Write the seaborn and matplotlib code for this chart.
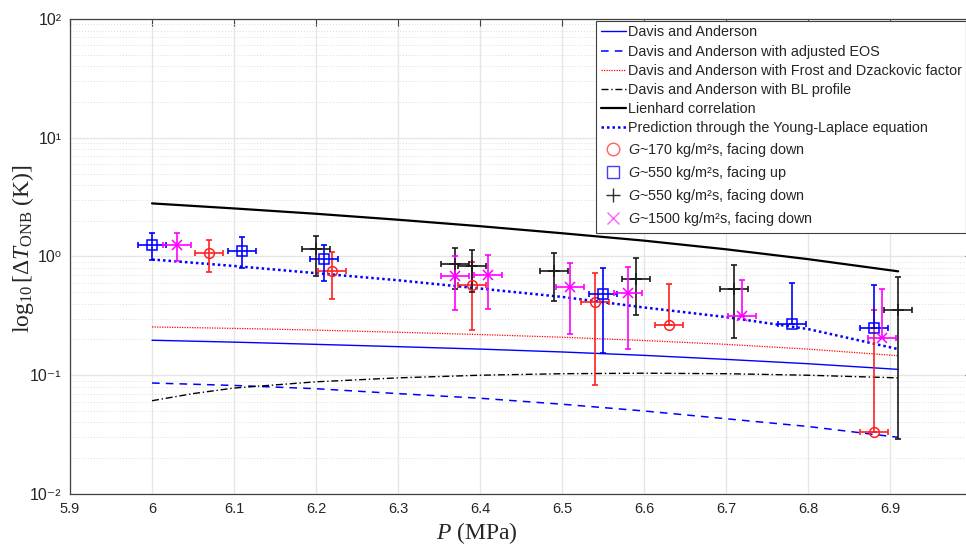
import numpy as np
import pandas as pd
import matplotlib
matplotlib.use("Agg")
import matplotlib.pyplot as plt
from matplotlib.lines import Line2D
import seaborn as sns

# ---------------- data ----------------
P_line = [6.0, 6.1, 6.2, 6.3, 6.4, 6.5, 6.6, 6.7, 6.8, 6.91]
davis = [0.197, 0.190, 0.182, 0.174, 0.166, 0.157, 0.147, 0.136, 0.125, 0.112]
davis_eos = [0.086, 0.082, 0.077, 0.070, 0.064, 0.057, 0.050, 0.043, 0.037, 0.030]
davis_frost = [0.255, 0.248, 0.240, 0.230, 0.220, 0.209, 0.196, 0.182, 0.166, 0.146]
lienhard = [2.80, 2.54, 2.29, 2.04, 1.80, 1.57, 1.36, 1.15, 0.95, 0.75]
young_laplace = [0.944, 0.832, 0.724, 0.631, 0.537, 0.457, 0.372, 0.309, 0.245, 0.166]

P_bl = [6.0, 6.05, 6.1, 6.2, 6.3, 6.4, 6.5, 6.6, 6.7, 6.8, 6.91]
davis_bl = [0.061, 0.070, 0.078, 0.088, 0.095, 0.100, 0.103, 0.104, 0.103, 0.100, 0.095]

# G~170 kg/m2s, facing down
g170_P = [6.07, 6.22, 6.39, 6.54, 6.63, 6.88]
g170_T = [1.07, 0.76, 0.57, 0.41, 0.266, 0.033]
g170_hi = [1.39, 1.09, 0.90, 0.73, 0.59, 0.356]
g170_lo = [0.74, 0.44, 0.24, 0.082, 0.266, 0.033]

# G~550 kg/m2s, facing up
g550u_P = [6.0, 6.11, 6.21, 6.55, 6.78, 6.88]
g550u_T = [1.26, 1.12, 0.944, 0.485, 0.271, 0.249]
g550u_hi = [1.58, 1.45, 1.26, 0.80, 0.60, 0.58]
g550u_lo = [0.943, 0.80, 0.616, 0.154, 0.271, 0.249]

# G~550 kg/m2s, facing down
g550d_P = [6.20, 6.37, 6.39, 6.49, 6.59, 6.71, 6.91]
g550d_T = [1.16, 0.86, 0.83, 0.75, 0.65, 0.534, 0.356]
g550d_hi = [1.50, 1.18, 1.145, 1.07, 0.975, 0.856, 0.678]
g550d_lo = [0.69, 0.535, 0.50, 0.42, 0.323, 0.207, 0.0288]

# G~1500 kg/m2s, facing down
g1500_P = [6.03, 6.37, 6.41, 6.51, 6.58, 6.72, 6.89]
g1500_T = [1.25, 0.683, 0.692, 0.551, 0.495, 0.315, 0.205]
g1500_hi = [1.58, 1.006, 1.02, 0.878, 0.813, 0.64, 0.535]
g1500_lo = [0.925, 0.356, 0.363, 0.223, 0.167, 0.315, 0.205]

P_err = 0.017

x_ticks = [5.9, 6.0, 6.1, 6.2, 6.3, 6.4, 6.5, 6.6, 6.7, 6.8, 6.9]
x_tick_labels = ["5.9", "6", "6.1", "6.2", "6.3", "6.4", "6.5", "6.6", "6.7", "6.8", "6.9"]
y_ticks = [1e-2, 1e-1, 1e0, 1e1, 1e2]
y_tick_labels = ["10\u207b\u00b2", "10\u207b\u00b9", "10\u2070", "10\u00b9", "10\u00b2"]

# ---------------- style ----------------
sns.set_theme(style="whitegrid")
plt.rcParams["font.family"] = ["Liberation Sans", "DejaVu Sans"]
plt.rcParams["mathtext.fontset"] = "custom"
plt.rcParams["mathtext.rm"] = "Liberation Serif"
plt.rcParams["mathtext.it"] = "Liberation Serif:italic"
plt.rcParams["mathtext.sf"] = "Liberation Sans:italic"

fig = plt.figure(figsize=(9.66, 5.44), dpi=100)
ax = fig.add_axes([0.0725, 0.092, 0.9337, 0.873])
ax.set_facecolor("white")

# ---------------- model lines ----------------
sns.lineplot(x=P_line, y=davis, ax=ax, color="#0000ff", lw=1.0, label="Davis and Anderson")
sns.lineplot(x=P_line, y=davis_eos, ax=ax, color="#0000ff", lw=1.1, linestyle=(0, (5, 4)),
             label="Davis and Anderson with adjusted EOS")
sns.lineplot(x=P_line, y=davis_frost, ax=ax, color="#ff0000", lw=0.9, linestyle=(0, (1, 1)),
             label="Davis and Anderson with Frost and Dzackovic factor")
sns.lineplot(x=P_bl, y=davis_bl, ax=ax, color="black", lw=1.0, linestyle=(0, (5, 2, 1, 2)),
             label="Davis and Anderson with BL profile")
sns.lineplot(x=P_line, y=lienhard, ax=ax, color="black", lw=1.6, label="Lienhard correlation")
sns.lineplot(x=P_line, y=young_laplace, ax=ax, color="#0000ff", lw=1.8, linestyle=(0, (1, 1.2)),
             label="Prediction through the Young-Laplace equation")


def eb(P, T, hi, lo, color, marker, ms, mew):
    T = np.array(T)
    yerr = np.vstack([T - np.array(lo), np.array(hi) - T])
    ax.errorbar(P, T, yerr=yerr, xerr=P_err, fmt="none", ecolor=color, elinewidth=1.2,
                capsize=2.5, capthick=1.2, zorder=4)
    df = pd.DataFrame({"P": P, "T": T})
    ax.plot(df["P"], df["T"], linestyle="none", marker=marker, markersize=ms,
            markerfacecolor="none", markeredgecolor=color, markeredgewidth=mew, zorder=5)


eb(g170_P, g170_T, g170_hi, g170_lo, "#ff2020", "o", 7, 1.1)
eb(g550u_P, g550u_T, g550u_hi, g550u_lo, "#0000ff", "s", 6.5, 1.1)
eb(g550d_P, g550d_T, g550d_hi, g550d_lo, "#1a1a1a", "+", 8, 1.1)
eb(g1500_P, g1500_T, g1500_hi, g1500_lo, "#ff00ff", "x", 7, 1.1)

# ---------------- axes ----------------
ax.set_yscale("log")
ax.set_xlim(5.9, 7.0)
ax.set_ylim(1e-2, 1e2)
ax.set_xticks(x_ticks)
ax.set_xticklabels(x_tick_labels, fontsize=10.5, color="#262626")
ax.set_yticks(y_ticks)
ax.set_yticklabels(y_tick_labels, fontsize=11.5, color="#262626")
ax.tick_params(which="both", direction="in", top=True, right=True, color="#404040")
ax.tick_params(which="major", length=5, width=0.8, pad=6)
ax.tick_params(which="minor", length=3, width=0.6)
ax.grid(True, which="major", color="#e6e6e6", lw=1.0)
ax.grid(True, which="minor", axis="y", color="#dcdcdc", lw=0.7, linestyle=(0, (1, 2)))
ax.grid(False, which="minor", axis="x")
for s in ax.spines.values():
    s.set_color("#404040")
    s.set_linewidth(0.9)

ax.set_xlabel(r"$P\ (\mathrm{MPa})$", fontsize=17)
ax.xaxis.label.set_verticalalignment("center")
ax.xaxis.set_label_coords(0.451, -0.082)
ax.set_ylabel(r"$\log_{10}[\Delta T_{\mathrm{ONB}}\ (\mathrm{K})]$", fontsize=17)
ax.yaxis.label.set_verticalalignment("center")
ax.yaxis.set_label_coords(-0.052, 0.516)

# ---------------- legend ----------------
handles, labels = ax.get_legend_handles_labels()
mk = dict(linestyle="none", markerfacecolor="none", markeredgewidth=1.0)
handles += [
    Line2D([], [], marker="o", markersize=9, markeredgecolor="#ff6060", **mk),
    Line2D([], [], marker="s", markersize=8, markeredgecolor="#4040ff", **mk),
    Line2D([], [], marker="+", markersize=10, markeredgecolor="#303030", **mk),
    Line2D([], [], marker="x", markersize=8, markeredgecolor="#ff60ff", **mk),
]
labels += [
    r"$\mathsf{G}$~170 kg/m²s, facing down",
    r"$\mathsf{G}$~550 kg/m²s, facing up",
    r"$\mathsf{G}$~550 kg/m²s, facing down",
    r"$\mathsf{G}$~1500 kg/m²s, facing down",
]
leg = ax.legend(handles, labels, loc="upper right", bbox_to_anchor=(0.9935, 0.9958),
                fontsize=10.4, frameon=True, fancybox=False, framealpha=1,
                edgecolor="#404040", handlelength=1.75, handletextpad=0.12,
                labelspacing=0.36, borderpad=0.3, borderaxespad=0.0)
leg.get_frame().set_linewidth(0.8)

fig.savefig("out.png", dpi=100)
